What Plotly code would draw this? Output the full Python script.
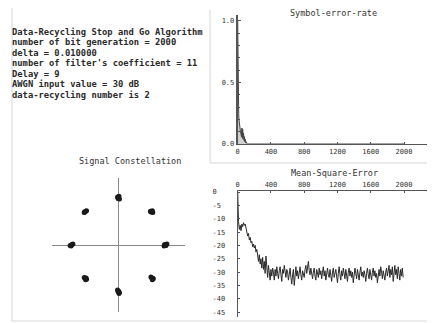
import plotly.graph_objects as go

# The page body adds an 8 px margin, so the figure is drawn 8 px in and 8 px down.
OFF = 8
W, H = 435 - OFF, 323 - OFF

# ---------------- data ----------------
info_lines = [
    "Data-Recycling Stop and Go Algorithm",
    "number of bit generation = 2000",
    "delta = 0.010000",
    "number of filter's coefficient = 11",
    "Delay = 9",
    "AWGN input value = 30 dB",
    "data-recycling number is 2",
]

ser_n = [0, 1, 2, 3, 4, 5, 6, 8, 10, 12, 15, 18, 20, 25, 30, 35, 40, 45, 50,
         55, 60, 65, 70, 75, 80, 85, 90, 95, 100, 110, 120, 2000]
ser_v = [1.0, 1.0, 0.5, 0.67, 0.5, 0.4, 0.5, 0.38, 0.3, 0.25, 0.2, 0.17, 0.15,
         0.12, 0.1, 0.09, 0.08, 0.06, 0.13, 0.05, 0.12, 0.04, 0.09, 0.03, 0.06,
         0.02, 0.04, 0.01, 0.02, 0.005, 0.0, 0.0]

mse_n = [0, 3, 6] + list(range(10, 2000, 10))
mse_db = (
    [0, -5, -9.5]
    + [-11, -14, -12.5, -14.5, -12, -13, -11.5, -12.5, -12, -13.5]
    + [-15, -16.5, -15.5, -18, -17, -19, -18.5, -20.5, -19.5, -21]
    + [-20, -22.5, -21.5, -24, -26, -23.5, -27, -25, -28.5, -24.5]
    + [-29, -26, -30.5, -24, -29.5, -32, -27.5, -30, -33, -29]
    + [-31.5, -28.5, -30, -33, -29, -31.5, -28, -30.5, -32.5, -29.5]
    + [-28, -31, -33.5, -29, -30.5, -27.5, -31, -32, -29, -30]
    + [-33, -30.5, -28.5, -32, -34.5, -31, -29, -35, -30.5, -28]
    + [-31.5, -29.5, -32.5, -30, -28, -31, -33, -29.5, -30.5, -32]
    + [-29, -27.5, -30.5, -28, -26, -29.5, -31, -28.5, -30, -32.5]
    + [-30, -28.5, -31.5, -33, -29, -30.5, -32, -28.5, -31, -29.5]
    + [-32.5, -30, -28, -31.5, -29.5, -33, -30, -28.5, -31, -32]
    + [-29, -31.5, -33.5, -30, -28.5, -32, -30.5, -29, -31.5, -34]
    + [-30.5, -28, -31, -33, -29.5, -31.5, -28.5, -30, -32.5, -29]
    + [-31, -33.5, -30, -28.5, -31.5, -29.5, -32, -30, -34, -31]
    + [-28.5, -30.5, -32.5, -29, -31, -33, -30, -28, -31.5, -30]
    + [-32, -29.5, -31, -33.5, -30.5, -28.5, -31, -32.5, -29, -30.5]
    + [-33, -30, -28.5, -31.5, -29.5, -32, -30.5, -34, -31, -29]
    + [-31.5, -28, -30, -32.5, -29.5, -31, -33, -30, -28.5, -31.5]
    + [-30, -27.5, -32, -29, -31, -28, -33.5, -30.5, -27.5, -31]
    + [-29, -32.5, -28, -30.5, -33, -29, -31.5, -28.5, -32]
)
n_pts = min(len(mse_n), len(mse_db))
mse_n, mse_db = mse_n[:n_pts], mse_db[:n_pts]

# received 8-PSK symbols (in-phase / quadrature)
const_i = [1.00, 1.03, 0.97, 1.01, 0.98,
           0.70, 0.73, 0.68, 0.72, 0.69,
           0.00, 0.02, -0.02, 0.01, -0.01,
           -0.71, -0.68, -0.73, -0.70, -0.72,
           -1.00, -0.97, -1.03, -0.99, -1.01,
           -0.71, -0.68, -0.73, -0.70, -0.69,
           0.00, 0.02, -0.02, 0.01, -0.01,
           0.71, 0.74, 0.69, 0.72, 0.73]
const_q = [0.00, 0.02, -0.02, -0.01, 0.01,
           0.71, 0.69, 0.72, 0.73, 0.70,
           1.01, 0.98, 1.02, 1.04, 0.99,
           0.71, 0.73, 0.69, 0.72, 0.70,
           0.00, 0.02, -0.01, 0.01, -0.02,
           -0.71, -0.73, -0.69, -0.74, -0.70,
           -0.98, -1.01, -0.96, -1.03, -0.99,
           -0.70, -0.72, -0.68, -0.74, -0.71]

x_ticks = [0, 400, 800, 1200, 1600, 2000]
ser_yticks = [0.0, 0.5, 1.0]
ser_ytext = ["0.0", "0.5", "1.0"]
mse_yticks = [0, -5, -10, -15, -20, -25, -30, -35, -40, -45]

# ---------------- helpers (screen pixels -> paper) ----------------
def px(x):
    return (x - OFF) / W

def py(y):
    return 1 - (y - OFF) / H

MONO = "DejaVu Sans Mono"
INK = "#2a2a2a"
AX = "#555555"

fig = go.Figure()

# Symbol error rate
fig.add_trace(go.Scatter(x=ser_n, y=ser_v, mode="lines",
                         line=dict(color="#444444", width=1),
                         fill="tozeroy", fillcolor="rgba(120,120,120,0.35)",
                         xaxis="x", yaxis="y", showlegend=False))
# Mean square error
fig.add_trace(go.Scatter(x=mse_n, y=mse_db, mode="lines",
                         line=dict(color="#2a2a2a", width=1),
                         xaxis="x2", yaxis="y2", showlegend=False))
# Constellation
fig.add_trace(go.Scatter(x=const_i, y=const_q, mode="markers",
                         marker=dict(color="#1a1a1a", size=5),
                         xaxis="x3", yaxis="y3", showlegend=False))

x_max = 2000 * (428 - 237.7) / 166.3
tickfont = dict(family=MONO, size=7, color="#333333")

ser_dom_y = [py(144), py(15)]
mse_dom_y = [py(317), py(190.5)]
x_dom = [px(237.7), px(428)]

fig.update_layout(
    width=W, height=H,
    margin=dict(l=0, r=0, t=0, b=0, autoexpand=False),
    paper_bgcolor="white", plot_bgcolor="rgba(0,0,0,0)",
    xaxis=dict(domain=x_dom, range=[0, x_max], anchor="y",
               showgrid=False, zeroline=False, showline=True,
               linecolor=AX, linewidth=1.2, automargin=False,
               tickvals=x_ticks, ticks="inside", ticklen=2,
               tickcolor=AX, tickfont=tickfont),
    yaxis=dict(domain=ser_dom_y, range=[0, (144 - 15) / (144 - 20.7)],
               anchor="x", showgrid=False, zeroline=False, showline=True,
               linecolor=AX, linewidth=2, automargin=False,
               tickvals=ser_yticks, ticktext=ser_ytext,
               ticks="inside", ticklen=3, tickcolor=AX, tickfont=tickfont,
               minor=dict(dtick=0.1, ticks="inside", ticklen=2,
                          tickcolor=AX)),
    xaxis2=dict(domain=x_dom, range=[0, x_max], anchor="y2", side="top",
                showgrid=False, zeroline=False, showline=True,
                linecolor=AX, linewidth=1.2, automargin=False,
                tickvals=x_ticks, ticks="inside", ticklen=2,
                tickcolor=AX, tickfont=tickfont),
    yaxis2=dict(domain=mse_dom_y,
                range=[-(317 - 192) / 2.67, (192 - 190.5) / 2.67],
                anchor="x2", showgrid=False, zeroline=False, showline=True,
                linecolor=AX, linewidth=1.2, automargin=False,
                tickvals=mse_yticks,
                ticktext=[(str(v) + "\u00a0" * 3)[:3] for v in mse_yticks],
                ticks="inside", ticklen=2, tickcolor=AX, tickfont=tickfont,
                ticklabelstandoff=10),
    xaxis3=dict(domain=[px(52), px(185)], range=[-1.415, 1.415], anchor="y3",
                showgrid=False, showline=False, showticklabels=False,
                ticks="", zeroline=True, zerolinecolor="#8a8a8a",
                zerolinewidth=1.2),
    yaxis3=dict(domain=[py(312), py(178)], range=[-1.426, 1.426], anchor="x3",
                showgrid=False, showline=False, showticklabels=False,
                ticks="", zeroline=True, zerolinecolor="#8a8a8a",
                zerolinewidth=1.2),
)

annotations = []
for i, line in enumerate(info_lines):
    annotations.append(dict(
        text="<b>" + line + "</b>", x=px(10), y=py(31.7 + i * 10.55),
        xref="paper", yref="paper", xanchor="left", yanchor="middle",
        showarrow=False, font=dict(family=MONO, size=8.8, color=INK)))

title_font = dict(family=MONO, size=8.5, color="#333333")
for text, cx, cy in [("Symbol-error-rate", 333, 13),
                     ("Signal Constellation", 130, 161),
                     ("Mean-Square-Error", 334, 173)]:
    annotations.append(dict(text=text, x=px(cx), y=py(cy), xref="paper",
                            yref="paper", xanchor="center", yanchor="middle",
                            showarrow=False, font=title_font))
fig.update_layout(annotations=annotations)

# faint panel frame lines of the scanned figure
frame = dict(color="#d6d6d6", width=1)
shapes = [
    dict(type="line", x0=px(12), x1=px(431), y0=py(321), y1=py(321)),
    dict(type="line", x0=px(12), x1=px(12), y0=py(8), y1=py(321)),
    dict(type="line", x0=px(431), x1=px(431), y0=py(8), y1=py(321)),
    dict(type="line", x0=px(210), x1=px(210), y0=py(10), y1=py(163)),
    dict(type="line", x0=px(210), x1=px(431), y0=py(163), y1=py(163)),
]
for s in shapes:
    s.update(xref="paper", yref="paper", line=frame, layer="below")
fig.update_layout(shapes=shapes)

fig.write_html("out.html")
